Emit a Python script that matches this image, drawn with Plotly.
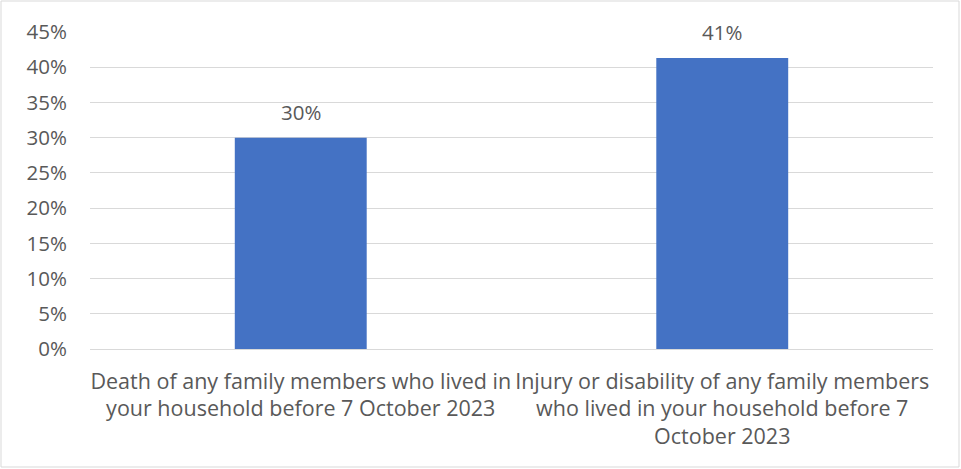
import plotly.graph_objects as go

categories = [
    "Death of any family members who lived in<br>your household before 7 October 2023",
    "Injury or disability of any family members<br>who lived in your household before 7<br>October 2023",
]
values = [30, 41.3]
tick_vals = [0, 5, 10, 15, 20, 25, 30, 35, 40, 45]
tick_text = ["0%", "5%", "10%", "15%", "20%", "25%", "30%", "35%", "40%", "45%"]

W, H = 961, 469
L, R, T, B = 90, 28, 32, 120
FONT = "Open Sans, sans-serif"
GRAY = "#595959"
FS_TICK = 20.5
FS_CAT = 21.5

fig = go.Figure(go.Bar(
    x=categories, y=values,
    marker=dict(color="#4472C4", line=dict(width=0)),
    width=0.313,
    hoverinfo="skip",
))

for c, v in zip(categories, values):
    fig.add_annotation(x=c, y=v, text=f"{v:.0f}%", showarrow=False,
                       yanchor="middle", yshift=26,
                       font=dict(family=FONT, size=FS_TICK, color=GRAY))

pw = W - L - R
ph = H - T - B
x0 = (1 - L) / pw
x1 = (W - 2 - L) / pw
y1 = (H - B - 1) / ph
y0 = (H - B - (H - 2)) / ph

fig.add_shape(type="rect", xref="paper", yref="paper",
              x0=x0, x1=x1, y0=y0, y1=y1,
              line=dict(color="#d9d9d9", width=1), fillcolor="rgba(0,0,0,0)", layer="below")

fig.update_layout(
    width=W, height=H,
    margin=dict(l=L, r=R, t=T, b=B),
    paper_bgcolor="white", plot_bgcolor="white",
    showlegend=False,
    font=dict(family=FONT, size=FS_TICK, color=GRAY),
    bargap=0.687,
    xaxis=dict(showline=False, ticks="", tickfont=dict(size=FS_CAT, color=GRAY),
               tickangle=0, ticklabelstandoff=17, automargin=False),
    yaxis=dict(range=[0, 45], tickvals=tick_vals, ticktext=tick_text,
               showgrid=True, gridcolor="#d9d9d9", gridwidth=1,
               zeroline=True, zerolinecolor="#d9d9d9", zerolinewidth=1,
               showline=False, ticks="", tickfont=dict(size=FS_TICK, color=GRAY),
               ticklabelstandoff=22, automargin=False),
)

fig.write_html("out.html", config={"displayModeBar": False},
               post_script="document.body.style.margin='0';")
